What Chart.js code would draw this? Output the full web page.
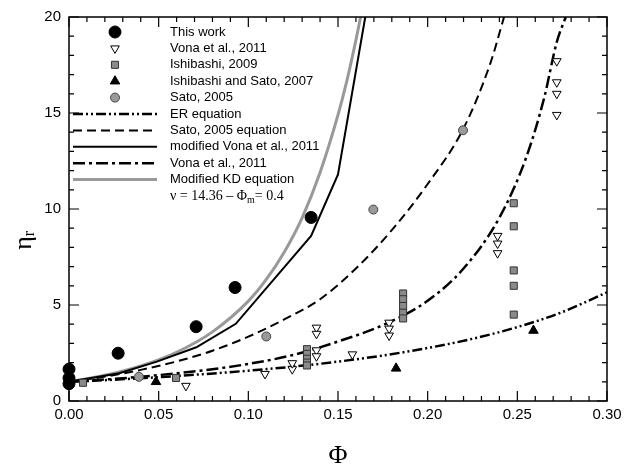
<!DOCTYPE html>
<html>
<head>
<meta charset="utf-8">
<script src="https://cdn.jsdelivr.net/npm/chart.js@4/dist/chart.umd.min.js"></script>
<style>
  body { margin: 0; background: #fff; }
  #wrap { width: 632px; height: 470px; }
</style>
</head>
<body>
<div id="wrap"><canvas id="myChart" width="632" height="470"></canvas></div>
<script>
// measured points
const thisWorkPhi = [0, 0, 0, 0.0274, 0.0709, 0.0926, 0.135];
const thisWorkEta = [1.66, 1.2, 0.9, 2.49, 3.87, 5.91, 9.56];

const vonaPhi = [0.0652, 0.1093, 0.1245, 0.1245, 0.138, 0.138, 0.138, 0.138, 0.158,
                 0.1785, 0.1785, 0.1785, 0.239, 0.239, 0.239, 0.272, 0.272, 0.272, 0.272];
const vonaEta = [0.79, 1.41, 1.66, 1.97, 3.82, 3.5, 2.64, 2.33, 2.43,
                 4.08, 3.77, 3.41, 8.6, 8.2, 7.7, 17.7, 16.6, 16.0, 14.9];

const ishiPhi = [0.0078, 0.0597, 0.1327, 0.1327, 0.1327, 0.1327, 0.1327,
                 0.1863, 0.1863, 0.1863, 0.1863, 0.1863, 0.248, 0.248, 0.248, 0.248, 0.248];
const ishiEta = [0.95, 1.2, 2.7, 2.45, 2.2, 2.0, 1.85,
                 5.6, 5.3, 4.95, 4.6, 4.3, 10.3, 9.1, 6.8, 6.0, 4.5];

const ishiSatoPhi = [0.0485, 0.1824, 0.259];
const ishiSatoEta = [1.0, 1.7, 3.67];

const satoPhi = [0.039, 0.11, 0.1697, 0.2197];
const satoEta = [1.26, 3.36, 9.97, 14.1];

// model curves
const erPhi = [0, 0.025, 0.05, 0.075, 0.1, 0.125, 0.15, 0.175, 0.2, 0.225, 0.25, 0.275, 0.3];
const erEta = [1.0, 1.11, 1.24, 1.4, 1.58, 1.79, 2.05, 2.37, 2.76, 3.24, 3.85, 4.63, 5.66];

const satoEqPhi = [0, 0.02, 0.04, 0.06, 0.08, 0.1, 0.12, 0.14, 0.16, 0.18, 0.2, 0.22, 0.235, 0.2426];
const satoEqEta = [1.0, 1.27, 1.62, 2.06, 2.62, 3.35, 4.25, 5.3, 6.9, 8.9, 11.3, 14.2, 17.6, 20];

const modVonaPhi = [0, 0.028, 0.049, 0.071, 0.093, 0.135, 0.150, 0.1652];
const modVonaEta = [1.0, 1.45, 2.05, 2.8, 4.02, 8.6, 11.8, 20];

const vonaEqPhi = [0, 0.025, 0.05, 0.075, 0.1, 0.125, 0.15, 0.175, 0.2, 0.22, 0.24, 0.255, 0.265, 0.272, 0.277];
const vonaEqEta = [1.0, 1.15, 1.35, 1.6, 1.93, 2.4, 3.1, 3.95, 5.22, 6.9, 9.55, 12.7, 15.8, 18.7, 20];

const kdPhi = [0, 0.02, 0.04, 0.06, 0.08, 0.1, 0.11, 0.12, 0.13, 0.14, 0.15, 0.155, 0.16, 0.1626];
const kdEta = [1.0, 1.34, 1.83, 2.54, 3.6, 5.2, 6.33, 7.75, 9.54, 11.9, 14.9, 16.7, 18.8, 20];

const xTicks = [0, 0.05, 0.1, 0.15, 0.2, 0.25, 0.3];
const yTicks = [0, 5, 10, 15, 20];

const pts = (xs, ys) => xs.map((v, i) => ({ x: v, y: ys[i] }));

function markerSet(label, xs, ys, style, extra) {
  return Object.assign({
    label: label,
    data: pts(xs, ys),
    showLine: false,
    pointStyle: style,
    clip: false
  }, extra);
}

function curveSet(label, xs, ys, color, width, dash, smooth) {
  return {
    label: label,
    data: pts(xs, ys),
    showLine: true,
    borderColor: color,
    borderWidth: width,
    borderDash: dash,
    pointRadius: 0,
    pointHoverRadius: 0,
    cubicInterpolationMode: smooth ? 'monotone' : 'default',
    tension: 0,
    fill: false
  };
}

const datasets = [
  markerSet('This work', thisWorkPhi, thisWorkEta, 'circle',
    { pointRadius: 6, backgroundColor: '#000', borderColor: '#000', borderWidth: 1 }),
  markerSet('Vona et al., 2011', vonaPhi, vonaEta, 'triangle',
    { pointRadius: 5, rotation: 180, backgroundColor: '#fff', borderColor: '#000', borderWidth: 1 }),
  markerSet('Ishibashi, 2009', ishiPhi, ishiEta, 'rect',
    { pointRadius: 5, backgroundColor: '#8a8a8a', borderColor: '#333', borderWidth: 1 }),
  markerSet('Ishibashi and Sato, 2007', ishiSatoPhi, ishiSatoEta, 'triangle',
    { pointRadius: 5.5, backgroundColor: '#000', borderColor: '#000', borderWidth: 1 }),
  markerSet('Sato, 2005', satoPhi, satoEta, 'circle',
    { pointRadius: 4.5, backgroundColor: '#999', borderColor: '#444', borderWidth: 1 }),
  curveSet('ER equation', erPhi, erEta, '#000', 2.5, [10, 3, 2, 3, 2, 3], true),
  curveSet('Sato, 2005 equation', satoEqPhi, satoEqEta, '#000', 2, [9, 5], true),
  curveSet('modified Vona et al., 2011', modVonaPhi, modVonaEta, '#000', 2, [], false),
  curveSet('Vona et al., 2011', vonaEqPhi, vonaEqEta, '#000', 2.5, [12, 4, 3, 4], true),
  curveSet('Modified KD equation', kdPhi, kdEta, '#999', 3, [], true)
];

// frame, inward ticks, legend and axis titles
const decorations = {
  id: 'decorations',
  afterDatasetsDraw(chart) {
    const { ctx, chartArea: a, scales: { x, y } } = chart;
    ctx.save();
    ctx.strokeStyle = '#000';
    ctx.lineWidth = 1.5;
    ctx.setLineDash([]);
    ctx.strokeRect(a.left, a.top, a.right - a.left, a.bottom - a.top);

    ctx.lineWidth = 1.2;
    ctx.beginPath();
    for (let i = 0; i <= 30; i++) {
      const px = x.getPixelForValue(i / 100);
      const len = i % 5 === 0 ? 10 : 5;
      ctx.moveTo(px, a.bottom); ctx.lineTo(px, a.bottom - len);
      ctx.moveTo(px, a.top); ctx.lineTo(px, a.top + len);
    }
    for (let i = 0; i <= 20; i++) {
      const py = y.getPixelForValue(i);
      const len = i % 5 === 0 ? 10 : 5;
      ctx.moveTo(a.left, py); ctx.lineTo(a.left + len, py);
      ctx.moveTo(a.right, py); ctx.lineTo(a.right - len, py);
    }
    ctx.stroke();

    // legend
    const rowH = 16.4;
    ctx.font = '13px "Liberation Sans", Arial, sans-serif';
    ctx.textBaseline = 'middle';
    ctx.textAlign = 'left';
    chart.data.datasets.forEach((ds, i) => {
      const ly = 32 + i * rowH;
      if (ds.showLine) {
        ctx.save();
        ctx.strokeStyle = ds.borderColor;
        ctx.lineWidth = ds.borderWidth;
        ctx.setLineDash(ds.borderDash);
        ctx.beginPath();
        ctx.moveTo(73, ly);
        ctx.lineTo(157, ly);
        ctx.stroke();
        ctx.restore();
      } else {
        ctx.save();
        ctx.fillStyle = ds.backgroundColor;
        ctx.strokeStyle = ds.borderColor;
        ctx.lineWidth = ds.borderWidth;
        Chart.helpers.drawPoint(ctx, {
          pointStyle: ds.pointStyle,
          rotation: ds.rotation || 0,
          radius: ds.pointRadius,
          borderWidth: ds.borderWidth
        }, 115, ly);
        ctx.restore();
      }
      ctx.fillStyle = '#000';
      ctx.fillText(ds.label, 170, ly);
    });

    // parameter line
    const ny = 32 + 10 * rowH;
    ctx.font = '14px "Liberation Serif", "Times New Roman", serif';
    let tx = 170;
    const part1 = 'ν = 14.36 – Φ';
    ctx.fillText(part1, tx, ny);
    tx += ctx.measureText(part1).width;
    ctx.font = '10px "Liberation Serif", "Times New Roman", serif';
    ctx.fillText('m', tx, ny + 4);
    tx += ctx.measureText('m').width;
    ctx.font = '14px "Liberation Serif", "Times New Roman", serif';
    ctx.fillText('= 0.4', tx, ny);

    // axis titles
    ctx.textAlign = 'center';
    ctx.font = '26px "Liberation Serif", "Times New Roman", serif';
    ctx.fillText('Φ', (a.left + a.right) / 2, 456);

    ctx.save();
    ctx.translate(24, 240);
    ctx.rotate(-Math.PI / 2);
    ctx.textAlign = 'left';
    ctx.font = '26px "Liberation Serif", "Times New Roman", serif';
    const ew = ctx.measureText('η').width;
    ctx.fillText('η', -ew / 2 - 3, 0);
    ctx.font = '16px "Liberation Serif", "Times New Roman", serif';
    ctx.fillText('r', ew / 2 - 3, 6);
    ctx.restore();

    ctx.restore();
  }
};

new Chart(document.getElementById('myChart').getContext('2d'), {
  type: 'scatter',
  data: { datasets: datasets },
  options: {
    responsive: false,
    animation: false,
    events: [],
    layout: { padding: { top: 12, right: 25, left: 0, bottom: 0 } },
    plugins: { legend: { display: false }, tooltip: { enabled: false } },
    scales: {
      x: {
        type: 'linear',
        min: 0,
        max: 0.3,
        afterFit: (s) => { s.height = 69; },
        afterBuildTicks: (s) => { s.ticks = xTicks.map(v => ({ value: v })); },
        grid: { display: false, drawTicks: false },
        border: { display: false },
        ticks: {
          padding: 5,
          color: '#000',
          font: { family: '"Liberation Sans", Arial, sans-serif', size: 15 },
          callback: (v) => Number(v).toFixed(2)
        }
      },
      y: {
        type: 'linear',
        min: 0,
        max: 20,
        afterFit: (s) => { s.width = 69; },
        afterBuildTicks: (s) => { s.ticks = yTicks.map(v => ({ value: v })); },
        grid: { display: false, drawTicks: false },
        border: { display: false },
        ticks: {
          padding: 8,
          color: '#000',
          font: { family: '"Liberation Sans", Arial, sans-serif', size: 15 },
          callback: (v) => String(v)
        }
      }
    }
  },
  plugins: [decorations]
});
</script>
</body>
</html>
